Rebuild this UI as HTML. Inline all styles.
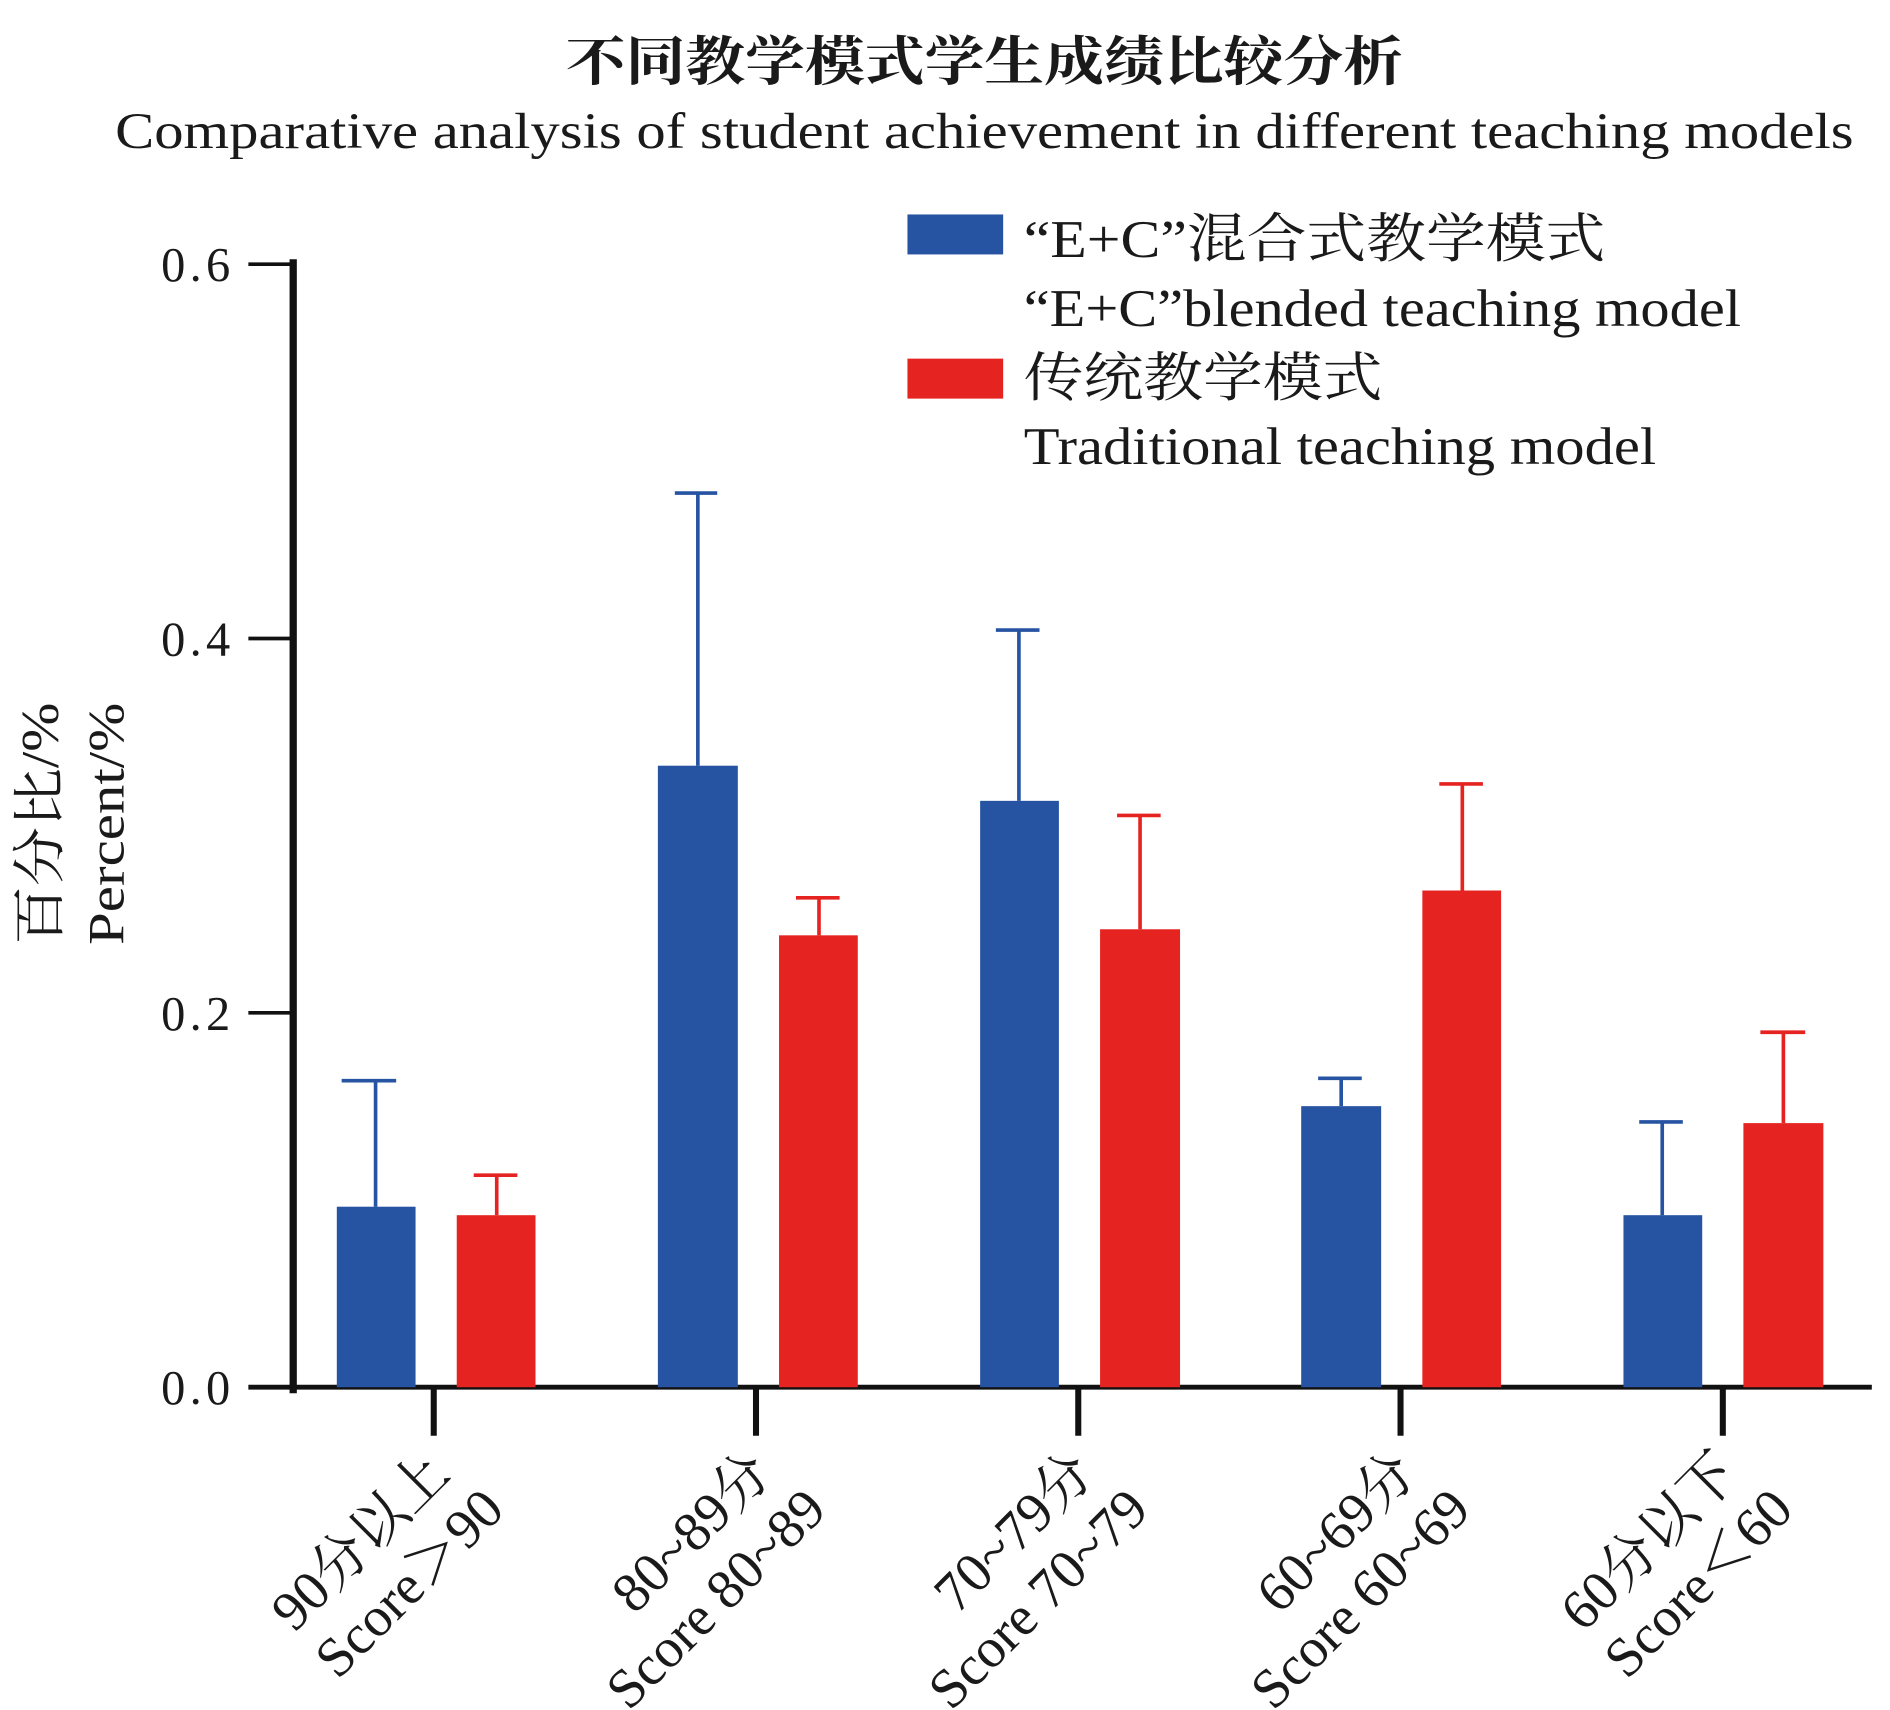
<!DOCTYPE html>
<html><head><meta charset="utf-8"><style>
html,body{margin:0;padding:0;background:#fff;}
svg{display:block;}
text{font-family:"Liberation Serif","Noto Serif CJK SC",serif;fill:#1a1a1a;}
</style></head><body>
<svg width="1890" height="1710" viewBox="0 0 1560 1411.4" xmlns="http://www.w3.org/2000/svg">
<text x="467" y="66" font-size="44" textLength="691" lengthAdjust="spacingAndGlyphs" font-weight="bold">不同教学模式学生成绩比较分析</text>
<text x="95" y="122" font-size="42" textLength="1435" lengthAdjust="spacingAndGlyphs">Comparative analysis of student achievement in different teaching models</text>

<rect x="749" y="177" width="79" height="33" fill="#2653a2"/>
<text x="845" y="212" font-size="44" textLength="480" lengthAdjust="spacingAndGlyphs">“E+C”混合式教学模式</text>
<text x="845" y="269" font-size="44" textLength="592" lengthAdjust="spacingAndGlyphs">“E+C”blended teaching model</text>
<rect x="749" y="296" width="79" height="33" fill="#e52421"/>
<text x="845" y="327" font-size="44" textLength="296" lengthAdjust="spacingAndGlyphs">传统教学模式</text>
<text x="845" y="383" font-size="44" textLength="522" lengthAdjust="spacingAndGlyphs">Traditional teaching model</text>

<text transform="translate(48,680) rotate(-90)" font-size="44" text-anchor="middle" textLength="200" lengthAdjust="spacingAndGlyphs">百分比/%</text>
<text transform="translate(102,680) rotate(-90)" font-size="42" text-anchor="middle" textLength="200" lengthAdjust="spacingAndGlyphs">Percent/%</text>

<g stroke="#111" stroke-width="3">
<line x1="205" y1="218" x2="242" y2="218"/>
<line x1="205" y1="527" x2="242" y2="527"/>
<line x1="205" y1="836" x2="242" y2="836"/>
<line x1="205" y1="1145" x2="1545" y2="1145" stroke-width="4"/>
</g>
<line x1="242" y1="214" x2="242" y2="1150" stroke="#111" stroke-width="6"/>
<g stroke="#111" stroke-width="5">
<line x1="358" y1="1145" x2="358" y2="1185"/>
<line x1="624" y1="1145" x2="624" y2="1185"/>
<line x1="890" y1="1145" x2="890" y2="1185"/>
<line x1="1156" y1="1145" x2="1156" y2="1185"/>
<line x1="1422" y1="1145" x2="1422" y2="1185"/>
</g>
<g font-size="40">
<text x="133" y="232" textLength="57" lengthAdjust="spacing">0.6</text>
<text x="133" y="541" textLength="57" lengthAdjust="spacing">0.4</text>
<text x="133" y="850" textLength="57" lengthAdjust="spacing">0.2</text>
<text x="133" y="1159" textLength="57" lengthAdjust="spacing">0.0</text>
</g>

<g stroke="#2653a2" stroke-width="3">
<line x1="310" y1="996" x2="310" y2="892"/><line x1="282" y1="892" x2="327" y2="892"/>
<line x1="576" y1="632" x2="576" y2="407"/><line x1="557" y1="407" x2="592" y2="407"/>
<line x1="841" y1="661" x2="841" y2="520"/><line x1="822" y1="520" x2="858" y2="520"/>
<line x1="1107" y1="913" x2="1107" y2="890"/><line x1="1088" y1="890" x2="1124" y2="890"/>
<line x1="1372" y1="1003" x2="1372" y2="926"/><line x1="1353" y1="926" x2="1389" y2="926"/>
</g>
<g stroke="#e52421" stroke-width="3">
<line x1="410" y1="1003" x2="410" y2="970"/><line x1="391" y1="970" x2="427" y2="970"/>
<line x1="676" y1="772" x2="676" y2="741"/><line x1="657" y1="741" x2="693" y2="741"/>
<line x1="941" y1="767" x2="941" y2="673"/><line x1="922" y1="673" x2="958" y2="673"/>
<line x1="1207" y1="735" x2="1207" y2="647"/><line x1="1188" y1="647" x2="1224" y2="647"/>
<line x1="1472" y1="927" x2="1472" y2="852"/><line x1="1453" y1="852" x2="1490" y2="852"/>
</g>
<g fill="#2653a2">
<rect x="278" y="996" width="65" height="149"/>
<rect x="543" y="632" width="66" height="513"/>
<rect x="809" y="661" width="65" height="484"/>
<rect x="1074" y="913" width="66" height="232"/>
<rect x="1340" y="1003" width="65" height="142"/>
</g>
<g fill="#e52421">
<rect x="377" y="1003" width="65" height="142"/>
<rect x="643" y="772" width="65" height="373"/>
<rect x="908" y="767" width="66" height="378"/>
<rect x="1174" y="735" width="65" height="410"/>
<rect x="1439" y="927" width="66" height="218"/>
</g>

<g font-size="46" text-anchor="end">
<text transform="translate(373,1218) rotate(-45)">90分以上</text>
<text transform="translate(418,1248) rotate(-45)">Score＞90</text>
<text transform="translate(639,1218) rotate(-45)">80~89分</text>
<text transform="translate(684,1248) rotate(-45)">Score 80~89</text>
<text transform="translate(905,1218) rotate(-45)">70~79分</text>
<text transform="translate(950,1248) rotate(-45)">Score 70~79</text>
<text transform="translate(1171,1218) rotate(-45)">60~69分</text>
<text transform="translate(1216,1248) rotate(-45)">Score 60~69</text>
<text transform="translate(1437,1218) rotate(-45)">60分以下</text>
<text transform="translate(1482,1248) rotate(-45)">Score＜60</text>
</g>
</svg>
</body></html>
